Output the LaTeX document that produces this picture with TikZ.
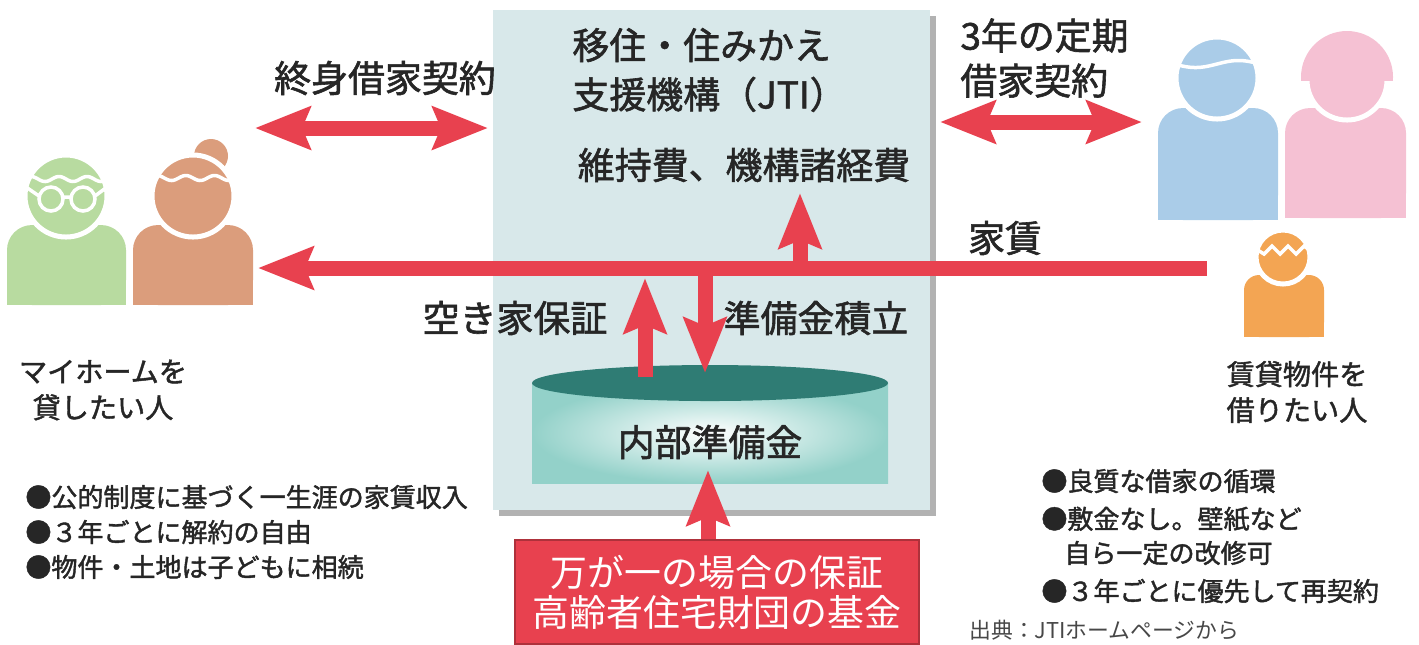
\documentclass[tikz,border=0pt]{standalone}
\usepackage{fontspec}
\newfontfamily\jpfont[FakeBold=1.6]{Noto Sans CJK JP}
\newfontfamily\jpthin{Noto Sans CJK JP}
\usetikzlibrary{arrows.meta,shadows}
\definecolor{ink}{HTML}{262626}
\definecolor{flow}{HTML}{E8414F}
\definecolor{panel}{HTML}{D8E8EA}
\definecolor{cyltop}{HTML}{2F7C74}
\definecolor{cylside}{HTML}{93D1C9}
\definecolor{sage}{HTML}{B8DBA0}
\definecolor{clay}{HTML}{DB9D7C}
\definecolor{sky}{HTML}{AACCE8}
\definecolor{blush}{HTML}{F5C1D3}
\definecolor{amber}{HTML}{F3A553}
\newcommand\sz[2]{\fontsize{#1}{#2}\selectfont}

\begin{document}
\begin{tikzpicture}[x=0.01cm,y=-0.01cm,font=\jpfont,
  bigtext/.style={text=ink,font=\jpfont\sz{10.5}{14}},
  notetext/.style={text=ink,anchor=west,font=\jpfont\sz{7.4}{10}},
  flowline/.style={draw=flow,line width=0.15cm},
  oneway/.style={-{Stealth[length=0.55cm,width=0.42cm,inset=0.08cm]}},
  twoway/.style={{Stealth[length=0.55cm,width=0.42cm,inset=0.08cm]}-{Stealth[length=0.55cm,width=0.42cm,inset=0.08cm]}},
  headring/.style={draw=white,line width=0.05cm},
  facemark/.style={draw=white,line width=0.035cm}]
  \useasboundingbox (0,0) rectangle (1419,644);
  \clip (0,0) rectangle (1419,644);

  % organisation panel with its shadow
  \path[fill=panel,drop shadow={shadow xshift=0.06cm,shadow yshift=-0.06cm,fill=black,opacity=0.3}]
    (493,10) rectangle (930,510);
  \node[bigtext,anchor=west,align=left] (jti) at (560,70)
    {移住・住みかえ\\支援機構（JTI）};
  \node[bigtext] (costs) at (744,165) {維持費、機構諸経費};

  % reserve fund drum
  \shade[inner color=white,outer color=cylside] (532,383) rectangle (888,483);
  \fill[cyltop] (710,383) ellipse [x radius=178,y radius=18];
  \node[bigtext] (fund) at (710,442) {内部準備金};

  % owners (left)
  \fill[sage,rounded corners=0.25cm] (7,225) rectangle (126,305);
  \fill[sage] (7,270) rectangle (126,305);
  \filldraw[fill=sage,headring] (66,196) circle (41);
  \draw[facemark] plot[domain=24:108,samples=60,smooth]
    (\x,{179-2.5*sin(12.857*(\x-24))});
  \draw[facemark] (51,199) circle (12) (83,199) circle (12)
    (63,197) -- (71,197) (39,196) -- (26,187) (95,196) -- (107,187);
  \fill[clay] (211,156) circle (17);
  \fill[clay,rounded corners=0.25cm] (133,225) rectangle (253,305);
  \fill[clay] (133,270) rectangle (253,305);
  \filldraw[fill=clay,headring] (193,196) circle (41);
  \draw[facemark] plot[domain=150:236,samples=60,smooth]
    (\x,{178-2.5*sin(12.558*(\x-150))});
  \node[text=ink,font=\jpfont\sz{8}{10.2},align=center] (owner) at (103,390)
    {マイホームを\\貸したい人};

  % tenants (right)
  \fill[sky,rounded corners=0.25cm] (1158,108) rectangle (1278,220);
  \fill[sky] (1158,160) rectangle (1278,220);
  \filldraw[fill=sky,headring] (1217,78) circle (41);
  \draw[facemark] plot[domain=1174:1260,samples=60,smooth]
    (\x,{64+3.5*sin(4.186*(\x-1174))});
  \fill[blush,rounded corners=0.25cm] (1285,108) rectangle (1406,218);
  \fill[blush] (1285,160) rectangle (1406,218);
  \filldraw[fill=blush,headring] (1347,80) circle (40);
  \begin{scope}
    \clip (1290,20) rectangle (1400,80);
    \fill[blush] (1347,77) circle (46);
  \end{scope}
  \fill[amber,rounded corners=0.15cm] (1244,275) rectangle (1324,337);
  \fill[amber] (1244,305) rectangle (1324,337);
  \filldraw[fill=amber,headring] (1283,257) circle (27);
  \draw[facemark] (1256,249) -- (1264,254) -- (1272,246) -- (1280,254)
    -- (1288,246) -- (1296,254) -- (1304,246) -- (1311,251);
  \node[text=ink,font=\jpfont\sz{8}{10.2},align=center] (tenant) at (1297,392)
    {賃貸物件を\\借りたい人};

  % lease contracts
  \node[bigtext] (lifelease) at (385,78) {終身借家契約};
  \coordinate (lifeL) at (255,128);
  \coordinate (lifeR) at (488,128);
  \draw[flowline,twoway] (lifeL) -- (lifeR);
  \node[bigtext,anchor=west,align=left,font=\jpfont\sz{10.5}{12.8}] (termlease) at (948,58)
    {3年の定期\\借家契約};
  \coordinate (termL) at (940,122);
  \coordinate (termR) at (1142,122);
  \draw[flowline,twoway] (termL) -- (termR);

  % rent and money flows
  \node[bigtext] (rent) at (1005,238) {家賃};
  \coordinate (rentIn) at (1207,268);
  \coordinate (rentOut) at (258,268);
  \draw[flowline,oneway] (rentIn) -- (rentOut);
  \coordinate (costsFrom) at (800,268);
  \coordinate (costsTo) at (800,193);
  \draw[flowline,oneway] (costsFrom) -- (costsTo);
  \coordinate (saveFrom) at (705,268);
  \coordinate (saveTo) at (705,373);
  \draw[flowline,oneway] (saveFrom) -- (saveTo);
  \coordinate (vacFrom) at (645,377);
  \coordinate (vacTo) at (645,278);
  \draw[flowline,oneway] (vacFrom) -- (vacTo);
  \node[bigtext] (vacancy) at (515,318) {空き家保証};
  \node[bigtext] (reserve) at (816,318) {準備金積立};

  % outside guarantee
  \node[draw=flow!75!black,fill=flow,text=white,font=\jpthin\sz{10.5}{11.4},
    align=center,minimum width=4.04cm,minimum height=1.04cm,inner sep=0pt]
    (backing) at (717,592) {万が一の場合の保証\\高齢者住宅財団の基金};
  \coordinate (fundIn) at (708,470);
  \draw[flowline,oneway] (backing.north -| fundIn) -- (fundIn);

  % merits
  \node[notetext] (ownerA) at (13,497) {●公的制度に基づく一生涯の家賃収入};
  \node[notetext] (ownerB) at (13,532) {●３年ごとに解約の自由};
  \node[notetext] (ownerC) at (13,567) {●物件・土地は子どもに相続};
  \node[notetext] (tenantA) at (1029,481) {●良質な借家の循環};
  \node[notetext] (tenantB) at (1029,519) {●敷金なし。壁紙など};
  \node[notetext] (tenantB2) at (1052,553) {自ら一定の改修可};
  \node[notetext] (tenantC) at (1029,591) {●３年ごとに優先して再契約};
  \node[anchor=west,text=ink!85,font=\jpthin\sz{6.2}{8}] (source) at (957,630)
    {出典：JTIホームページから};
\end{tikzpicture}
\end{document}
